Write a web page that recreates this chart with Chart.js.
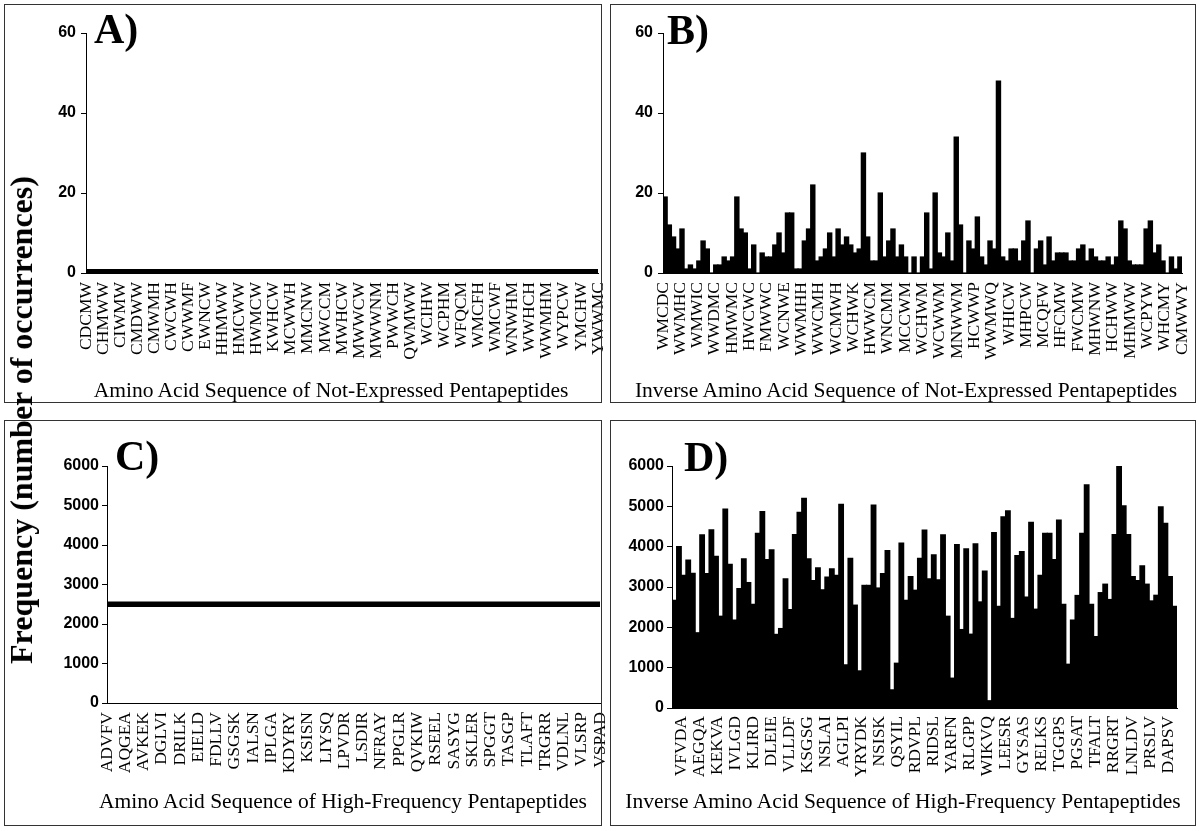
<!DOCTYPE html>
<html>
<head>
<meta charset="utf-8">
<script src="https://cdn.jsdelivr.net/npm/chart.js@4.4.0/dist/chart.umd.min.js"></script>
<style>
  html, body { margin:0; padding:0; background:#fff; }
  body { width:1200px; height:831px; position:relative; overflow:hidden; }
  .box { position:absolute; border:1.5px solid #333; box-sizing:border-box; pointer-events:none; z-index:2; }
  canvas { position:absolute; z-index:1; }
  .tag { position:absolute; font-family:'Liberation Serif', serif; font-weight:bold; font-size:42px; line-height:1; color:#000; white-space:nowrap; z-index:3; }
  .xt { position:absolute; font-family:'Liberation Serif', serif; font-size:21.5px; line-height:1; color:#000; white-space:nowrap; transform:translateX(-50%); z-index:3; }
  #ytitle { position:absolute; left:21px; top:420px; transform:translate(-50%,-50%) rotate(-90deg); font-family:'Liberation Serif', serif; font-weight:bold; font-size:32px; line-height:1; white-space:nowrap; color:#000; z-index:3; }
</style>
</head>
<body>
<canvas id="cA" width="604" height="396" style="left:5px;top:6px;"></canvas>
<canvas id="cB" width="582" height="396" style="left:612px;top:6px;"></canvas>
<canvas id="cC" width="604" height="402" style="left:5px;top:422px;"></canvas>
<canvas id="cD" width="582" height="402" style="left:612px;top:422px;"></canvas>

<div class="box" style="left:4px;top:4px;width:598px;height:399px;"></div>
<div class="box" style="left:610px;top:4px;width:586px;height:399px;"></div>
<div class="box" style="left:4px;top:420px;width:598px;height:406px;"></div>
<div class="box" style="left:610px;top:420px;width:586px;height:406px;"></div>

<div id="ytitle">Frequency (number of occurrences)</div>
<div class="tag" style="left:94px;top:8px;">A)</div>
<div class="tag" style="left:667px;top:9px;">B)</div>
<div class="tag" style="left:115px;top:435px;">C)</div>
<div class="tag" style="left:684px;top:436px;">D)</div>
<div class="xt" style="left:331px;top:380px;">Amino Acid Sequence of Not-Expressed Pentapeptides</div>
<div class="xt" style="left:906px;top:380px;">Inverse Amino Acid Sequence of Not-Expressed Pentapeptides</div>
<div class="xt" style="left:343px;top:791px;">Amino Acid Sequence of High-Frequency Pentapeptides</div>
<div class="xt" style="left:903px;top:791px;">Inverse Amino Acid Sequence of High-Frequency Pentapeptides</div>

<script>
// ---- Data ----
const notExpressedLabels = ['CDCMW','CHMWW','CIWMW','CMDWW','CMWMH','CWCWH','CWWMF','EWNCW','HHMWW','HMCWW','HWMCW','KWHCW','MCWWH','MMCNW','MWCCM','MWHCW','MWWCW','MWWNM','PWWCH','QWMWW','WCIHW','WCPHM','WFQCM','WMCFH','WMCWF','WNWHM','WWHCH','WWMHM','WYPCW','YMCHW','YWWMC'];
const inverseNotExpressedLabels = ['WMCDC','WWMHC','WMWIC','WWDMC','HMWMC','HWCWC','FMWWC','WCNWE','WWMHH','WWCMH','WCMWH','WCHWK','HWWCM','WNCMM','MCCWM','WCHWM','WCWWM','MNWWM','HCWWP','WWMWQ','WHICW','MHPCW','MCQFW','HFCMW','FWCMW','MHWNW','HCHWW','MHMWW','WCPYW','WHCMY','CMWWY'];
const highFreqLabels = ['ADVFV','AQGEA','AVKEK','DGLVI','DRILK','EIELD','FDLLV','GSGSK','IALSN','IPLGA','KDYRY','KSISN','LIYSQ','LPVDR','LSDIR','NFRAY','PPGLR','QVKIW','RSEEL','SASYG','SKLER','SPGGT','TASGP','TLAFT','TRGRR','VDLNL','VLSRP','VSPAD'];
const inverseHighFreqLabels = ['VFVDA','AEGQA','KEKVA','IVLGD','KLIRD','DLEIE','VLLDF','KSGSG','NSLAI','AGLPI','YRYDK','NSISK','QSYIL','RDVPL','RIDSL','YARFN','RLGPP','WIKVQ','LEESR','GYSAS','RELKS','TGGPS','PGSAT','TFALT','RRGRT','LNLDV','PRSLV','DAPSV'];

const notExpressedFreq = [0.4,0.4,0.4,0.4,0.4,0.4,0.4,0.4,0.4,0.4,0.4,0.4,0.4,0.4,0.4,0.4,0.4,0.4,0.4,0.4,0.4,0.4,0.4,0.4,0.4,0.4,0.4,0.4,0.4,0.4,0.4];
const highFreqFreq = [2500,2500,2500,2500,2500,2500,2500,2500,2500,2500,2500,2500,2500,2500,2500,2500,2500,2500,2500,2500,2500,2500,2500,2500,2500,2500,2500,2500];

const inverseNotExpressedFreq = [
  19,12,9,6,11,1,2,1,3,8,
  6,0,2,2,4,3,4,19,11,10,
  1,7,0,5,4,4,7,10,5,15,
  15,1,1,8,11,22,3,4,6,10,
  4,11,7,9,7,5,6,30,9,3,
  3,20,4,8,11,4,7,4,0,4,
  0,4,15,1,20,5,4,10,3,34,
  12,0,8,6,14,4,2,8,6,48,
  4,3,6,6,3,8,13,0,6,8,
  2,9,3,5,5,5,3,3,6,7,
  3,6,4,3,3,4,2,4,13,11,
  3,2,2,2,11,13,5,7,3,0,
  4,1,4];

const inverseHighFreqFreq = [
  2670,4000,3290,3670,3340,1865,4290,3330,4420,3760,
  2275,4930,3560,2180,2960,3700,3110,2570,4330,4870,
  3680,3920,1825,1970,3200,2440,4300,4850,5200,3700,
  3160,3475,2930,3245,3450,3290,5050,1070,3710,2550,
  920,3040,3040,5030,2975,3330,3900,450,1110,4090,
  2670,3260,2920,3710,4410,3200,3800,3180,4290,2275,
  740,4050,1945,3945,1830,4070,2630,3395,180,4350,
  2520,4740,4890,2220,3780,3880,2750,4600,2450,3290,
  4330,4330,3680,4660,2570,1085,2180,2790,4330,5530,
  2570,1770,2860,3070,2690,4300,6060,5010,4300,3260,
  3160,3525,3070,2655,2795,4990,4580,3260,2520];

// ---- Chart builder ----
function build(id, o) {
  const scales = {
    y: {
      type: 'linear', position: 'left', min: 0, max: o.yMax,
      ticks: { stepSize: o.yStep, color: '#000', padding: o.tickPad,
               callback: (v) => String(v),
               font: { family: 'Liberation Sans', size: o.yFont, weight: 'bold' } },
      grid: { display: true, drawOnChartArea: false, drawTicks: true, tickLength: 5, color: '#000', lineWidth: 1 },
      border: { display: true, color: '#000', width: 1 },
      afterFit(s) { s.width = o.left; s.paddingTop = 0; s.paddingBottom = 0; }
    },
    xl: {
      type: 'category', position: 'bottom', labels: o.labels, offset: o.offset,
      ticks: { autoSkip: false, minRotation: 90, maxRotation: 90, padding: o.labelPad, color: '#000',
               font: { family: 'Liberation Serif', size: 17.5 } },
      grid: { display: false, drawTicks: false },
      border: { display: true, color: '#000', width: 1 },
      afterFit(s) { s.height = o.xHeight; s.paddingLeft = 0; s.paddingRight = 0; }
    }
  };
  let datasets;
  if (o.bars) {
    scales.x = { type: 'category', position: 'bottom', display: false,
                 labels: o.bars.map((_, i) => String(i + 1)), offset: true, grid: { display: false } };
    datasets = [{ type: 'bar', data: o.bars, xAxisID: 'x', yAxisID: 'y', backgroundColor: '#000',
                  borderWidth: 0, inflateAmount: 0.6, barPercentage: 1, categoryPercentage: 1 }];
  } else {
    datasets = [{ type: 'line', data: o.line, xAxisID: 'xl', yAxisID: 'y', borderColor: '#000',
                  borderWidth: o.lineWidth, pointRadius: 0, fill: false, tension: 0, clip: false,
                  borderCapStyle: 'butt' }];
  }
  new Chart(document.getElementById(id), {
    type: o.bars ? 'bar' : 'line',
    data: { labels: o.labels, datasets },
    options: {
      responsive: false, animation: false, devicePixelRatio: 1,
      layout: { padding: { top: o.top, right: o.right, left: 0, bottom: 0 } },
      plugins: { legend: { display: false }, tooltip: { enabled: false } },
      scales
    }
  });
}

build('cA', { labels: notExpressedLabels, line: notExpressedFreq, lineWidth: 5, yMax: 60, yStep: 20, yFont: 16,
              tickPad: 5, left: 81, top: 27, right: 11, xHeight: 129, labelPad: 9, offset: false });
build('cB', { labels: inverseNotExpressedLabels, bars: inverseNotExpressedFreq, yMax: 60, yStep: 20, yFont: 16,
              tickPad: 5, left: 51, top: 27, right: 12, xHeight: 129, labelPad: 9, offset: false });
build('cC', { labels: highFreqLabels, line: highFreqFreq, lineWidth: 5.5, yMax: 6000, yStep: 1000, yFont: 16,
              tickPad: 3, left: 102, top: 44, right: 9, xHeight: 121, labelPad: 9, offset: false });
build('cD', { labels: inverseHighFreqLabels, bars: inverseHighFreqFreq, yMax: 6000, yStep: 1000, yFont: 16,
              tickPad: 3, left: 60, top: 44, right: 17, xHeight: 116, labelPad: 8, offset: true });
</script>
</body>
</html>
